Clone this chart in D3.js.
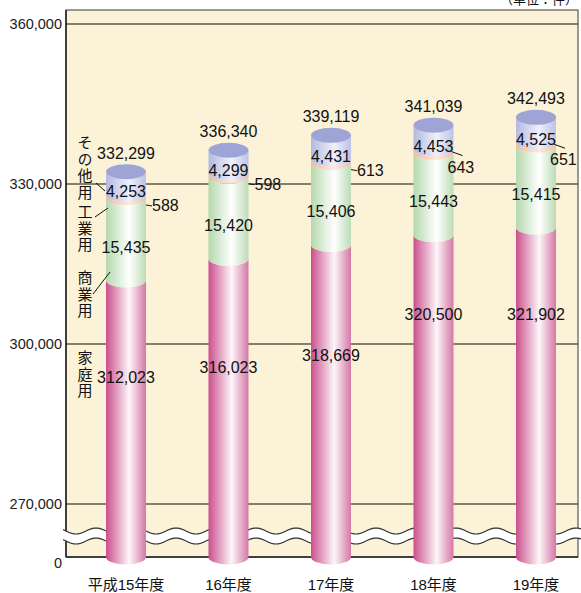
<!DOCTYPE html>
<html>
<head>
<meta charset="utf-8">
<script src="https://cdn.jsdelivr.net/npm/d3@7"></script>
<style>
  html, body { margin: 0; padding: 0; background: #ffffff; }
  svg { display: block; font-family: "Liberation Sans", Arial, "Noto Sans CJK JP", sans-serif; }
</style>
</head>
<body>
<svg id="chart" width="581" height="593"></svg>
<script>
// ---- data ----
const years = ["平成15年度", "16年度", "17年度", "18年度", "19年度"];
const household = [312023, 316023, 318669, 320500, 321902];
const commercial = [15435, 15420, 15406, 15443, 15415];
const industrial = [588, 598, 613, 643, 651];
const other = [4253, 4299, 4431, 4453, 4525];
const totals = [332299, 336340, 339119, 341039, 342493];
const yTicks = [0, 270000, 300000, 330000, 360000];
const seriesNames = ["家庭用", "商業用", "工業用", "その他用"];
const unitLabel = "（単位：件）";

// ---- layout ----
const svg = d3.select("#chart");
const plot = { left: 66, right: 578, top: 10, bottom: 557 };
const y = d3.scaleLinear().domain([0, 270000, 360000]).range([557, 504, 24]);
const x = d3.scalePoint().domain(years).range([126, 536]);
const fmt = d3.format(",");
const rx = 20, ry = 7.5;
const pinkLabelDy = [103, 114, 117, 85, 93];

const defs = svg.append("defs");
function grad(id, edgeL, mid, edgeR, midPos) {
  const g = defs.append("linearGradient").attr("id", id)
    .attr("x1", "0%").attr("x2", "100%").attr("y1", "0%").attr("y2", "0%");
  g.append("stop").attr("offset", "0%").attr("stop-color", edgeL);
  g.append("stop").attr("offset", midPos).attr("stop-color", mid);
  g.append("stop").attr("offset", "100%").attr("stop-color", edgeR);
}
grad("gPink", "#cb4f8d", "#fdf6f9", "#d577a6", "58%");
grad("gGreen", "#b4d9ad", "#ffffff", "#bcdcb6", "58%");
grad("gPeach", "#f2b898", "#fde9dd", "#f2bc9e", "58%");
grad("gLav", "#b3b9e3", "#eef0fa", "#bcc1e7", "58%");

// plot background
svg.append("rect").attr("x", plot.left).attr("y", plot.top)
  .attr("width", plot.right - plot.left).attr("height", plot.bottom - plot.top)
  .attr("fill", "#fbf2d7");

// gridlines
svg.append("g").selectAll("line").data(yTicks.filter(d => d > 0)).join("line")
  .attr("x1", plot.left).attr("x2", plot.right)
  .attr("y1", d => y(d)).attr("y2", d => y(d))
  .attr("stroke", "#5f5a45").attr("stroke-width", 1.3);

// frame
svg.append("rect").attr("x", plot.left).attr("y", plot.top)
  .attr("width", plot.right - plot.left).attr("height", plot.bottom - plot.top)
  .attr("fill", "none").attr("stroke", "#3a3a30").attr("stroke-width", 1);
svg.append("line").attr("x1", plot.left).attr("x2", plot.left)
  .attr("y1", plot.top).attr("y2", plot.bottom).attr("stroke", "#222").attr("stroke-width", 1.5);
svg.append("line").attr("x1", plot.left).attr("x2", plot.right)
  .attr("y1", plot.bottom).attr("y2", plot.bottom).attr("stroke", "#222").attr("stroke-width", 1.5);

// y axis labels
const yAxis = d3.axisLeft(y).tickValues(yTicks).tickSize(0).tickPadding(4).tickFormat(fmt);
const ga = svg.append("g").attr("transform", `translate(${plot.left},0)`).call(yAxis);
ga.select(".domain").remove();
ga.selectAll("text").attr("font-size", 14.5).attr("fill", "#222")
  .attr("font-family", "Liberation Sans, Arial, sans-serif");
ga.selectAll(".tick").filter(d => d === 0).select("text").attr("dy", "0.7em");

// break band (wavy)
const waveTop = 531, gap = 10, amp = 3, period = 40;
const xs = d3.range(plot.left - 3, plot.right + 4, 1);
const wave = (off) => xs.map(xx => [xx, off + amp * Math.sin((xx - plot.left) * 2 * Math.PI / period)]);
const upper = wave(waveTop), lower = wave(waveTop + gap);
const band = upper.concat(lower.slice().reverse());
svg.append("path").attr("d", d3.line()(band) + "Z").attr("fill", "#ffffff");
svg.append("path").attr("d", d3.line()(upper)).attr("fill", "none").attr("stroke", "#333").attr("stroke-width", 1.2);
svg.append("path").attr("d", d3.line()(lower)).attr("fill", "none").attr("stroke", "#333").attr("stroke-width", 1.2);

// cylinders
function segPath(cx, yLow, yHigh) {
  const x0 = cx - rx, x1 = cx + rx;
  return `M${x0},${yHigh} L${x0},${yLow} A${rx},${ry} 0 0 0 ${x1},${yLow} L${x1},${yHigh} A${rx},${ry} 0 0 1 ${x0},${yHigh} Z`;
}
const bars = years.map((yr, i) => {
  const c1 = household[i], c2 = c1 + commercial[i], c3 = c2 + industrial[i], c4 = c3 + other[i];
  return { yr, i, cx: x(yr), b: [y(0), y(c1), y(c2), y(c3), y(c4)] };
});
const fills = ["url(#gPink)", "url(#gGreen)", "url(#gPeach)", "url(#gLav)"];
const gb = svg.append("g");
bars.forEach(bd => {
  for (let s = 0; s < 4; s++) {
    gb.append("path").attr("d", segPath(bd.cx, bd.b[s], bd.b[s + 1])).attr("fill", fills[s]);
  }
  gb.append("ellipse").attr("cx", bd.cx).attr("cy", bd.b[4]).attr("rx", rx).attr("ry", ry)
    .attr("fill", "#9ea5d6");
});

// value labels
const gl = svg.append("g").attr("font-size", 16).attr("fill", "#111");
bars.forEach(bd => {
  const i = bd.i, cx = bd.cx, b = bd.b;
  gl.append("text").attr("x", cx).attr("y", b[4] - 13).attr("text-anchor", "middle").text(fmt(totals[i]));
  gl.append("text").attr("x", cx).attr("y", b[3] + 3).attr("text-anchor", "middle").text(fmt(other[i]));
  gl.append("text").attr("x", cx).attr("y", (b[1] + b[2]) / 2 + 14).attr("text-anchor", "middle").text(fmt(commercial[i]));
  gl.append("text").attr("x", cx).attr("y", b[1] + pinkLabelDy[i]).attr("text-anchor", "middle").text(fmt(household[i]));
  const py = (b[2] + b[3]) / 2;
  if (i < 3) {
    gl.append("line").attr("x1", cx + rx).attr("y1", py + 9).attr("x2", cx + rx + 6).attr("y2", py + 10)
      .attr("stroke", "#111").attr("stroke-width", 1);
    gl.append("text").attr("x", cx + rx + 6).attr("y", py + 15).text(fmt(industrial[i]));
  } else {
    gl.append("line").attr("x1", cx + rx - 2).attr("y1", py + 1).attr("x2", cx + rx + 9).attr("y2", py + 5)
      .attr("stroke", "#111").attr("stroke-width", 1);
    gl.append("text").attr("x", cx + rx - 6).attr("y", py + 22).text(fmt(industrial[i]));
  }
});

// left vertical series labels
const labelSpecs = [
  { name: seriesNames[3], top: 135, lead: [[96, 183], [105, 191]] },
  { name: seriesNames[2], top: 204, lead: [[95, 217], [108, 208]] },
  { name: seriesNames[1], top: 270, lead: [[93, 294], [110, 272]] },
  { name: seriesNames[0], top: 350, lead: null }
];
const gs = svg.append("g").attr("font-size", 15).attr("fill", "#111")
  .attr("font-family", "Noto Sans CJK JP, sans-serif");
labelSpecs.forEach(ls => {
  gs.append("text").attr("x", 85).attr("y", ls.top)
    .attr("writing-mode", "vertical-rl")
    .style("text-orientation", "upright")
    .attr("letter-spacing", 1.5)
    .text(ls.name);
  if (ls.lead) {
    gs.append("line").attr("x1", ls.lead[0][0]).attr("y1", ls.lead[0][1])
      .attr("x2", ls.lead[1][0]).attr("y2", ls.lead[1][1])
      .attr("stroke", "#111").attr("stroke-width", 1);
  }
});

// x labels
svg.append("g").selectAll("text").data(years).join("text")
  .attr("x", d => x(d)).attr("y", 590).attr("text-anchor", "middle")
  .attr("font-size", 15).attr("fill", "#111")
  .attr("font-family", "Liberation Sans, Noto Sans CJK JP, sans-serif")
  .text(d => d);

// unit label (partly clipped at top, as in the reference)
svg.append("text").attr("x", 578).attr("y", 4).attr("text-anchor", "end")
  .attr("font-size", 13).attr("fill", "#111")
  .attr("font-family", "Noto Sans CJK JP, sans-serif").text(unitLabel);
</script>
</body>
</html>
